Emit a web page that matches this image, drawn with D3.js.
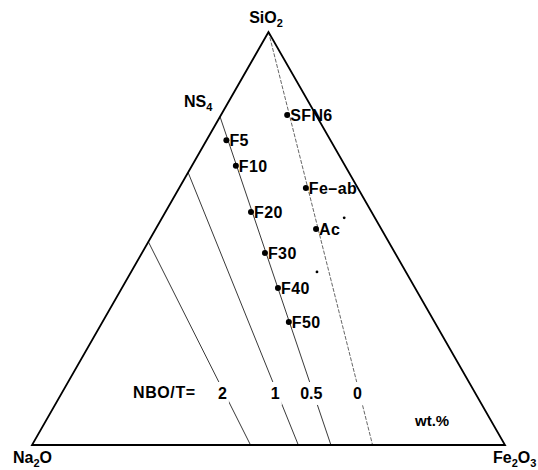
<!DOCTYPE html>
<html>
<head>
<meta charset="utf-8">
<script src="https://cdn.jsdelivr.net/npm/d3@7"></script>
<style>
  html, body { margin: 0; padding: 0; background: #fff; }
  svg text { font-family: "Liberation Sans", Arial, Helvetica, sans-serif; fill: #000; font-weight: bold; }
</style>
</head>
<body>
<svg id="chart" width="538" height="470"></svg>
<script>
// Compositions in wt.% as [SiO2, Na2O, Fe2O3]
const sampleNames = ["SFN6", "Fe–ab", "Ac", "F5", "F10", "F20", "F30", "F40", "F50"];
const sampleSiO2  = [79.9, 62.2, 52.3, 73.8, 67.6, 56.4, 46.5, 38.0, 29.8];
const sampleNa2O  = [ 6.1, 11.0, 13.8, 22.0, 23.1, 25.5, 27.5, 29.0, 30.8];
const sampleFe2O3 = [14.0, 26.8, 33.9,  4.2,  9.3, 18.1, 26.0, 33.0, 39.4];

// Small marks beside Ac and F40
const markSiO2  = [55.0, 41.9];
const markNa2O  = [ 6.5, 18.8];
const markFe2O3 = [38.5, 39.3];

// Iso-NBO/T lines: end on the SiO2–Na2O join and on the Na2O–Fe2O3 join
const nboLabels     = ["2", "1", "0.5", "0"];
const nboStartSiO2  = [49.2, 66.0, 79.5, 100.0];   // NS, NS2, NS4, SiO2
const nboStartNa2O  = [50.8, 34.0, 20.5,   0.0];
const nboEndNa2O    = [53.8, 43.7, 36.8,  28.0];
const nboEndFe2O3   = [46.2, 56.3, 63.2,  72.0];
const nboLabelSiO2  = 12.6;   // height of the value labels along each line

const svg = d3.select("#chart");

// Unit triangle: u across the base (Na2O → Fe2O3), v up to SiO2
const x = d3.scaleLinear().domain([0, 1]).range([32, 505]);
const y = d3.scaleLinear().domain([0, 1]).range([445, 32]);

function project(si, na, fe) {
  const t = si + na + fe;
  const a = si / t, c = fe / t;
  return [x(c + a / 2), y(a)];
}

// NBO/T lines (drawn first so labels can sit on a white patch)
const nboG = svg.append("g");
nboLabels.forEach((lab, i) => {
  const p0 = project(nboStartSiO2[i], nboStartNa2O[i], 100 - nboStartSiO2[i] - nboStartNa2O[i]);
  const p1 = project(0, nboEndNa2O[i], nboEndFe2O3[i]);
  nboG.append("path")
    .attr("d", d3.line()([p0, p1]))
    .attr("fill", "none")
    .attr("stroke", lab === "0" ? "#555" : "#222")
    .attr("stroke-width", 0.9)
    .attr("stroke-dasharray", lab === "0" ? "4,1.5" : null);
});

// Value labels placed on each line where SiO2 = nboLabelSiO2
nboLabels.forEach((lab, i) => {
  const s0 = nboStartSiO2[i];
  const t = 1 - nboLabelSiO2 / s0;
  const na = nboStartNa2O[i] * (1 - t) + nboEndNa2O[i] * t;
  const fe = 100 - nboLabelSiO2 - na;
  const p = project(nboLabelSiO2, na, fe);
  const txt = svg.append("text")
    .attr("x", p[0] - 2).attr("y", p[1] + 6)
    .attr("text-anchor", "middle")
    .attr("font-size", 16)
    .text(lab);
  const bb = txt.node().getBBox();
  svg.insert("rect", "text")
    .attr("x", bb.x - 2).attr("y", bb.y - 3)
    .attr("width", bb.width + 4).attr("height", bb.height + 6)
    .attr("fill", "#fff");
});

svg.append("text")
  .attr("x", 133).attr("y", 398)
  .attr("font-size", 16).attr("letter-spacing", 0.6)
  .text("NBO/T=");

// Triangle frame
const corners = [project(100, 0, 0), project(0, 100, 0), project(0, 0, 100)];
svg.append("path")
  .attr("d", d3.line()(corners) + "Z")
  .attr("fill", "none")
  .attr("stroke", "#000")
  .attr("stroke-width", 1.8)
  .attr("stroke-linejoin", "miter");

// Sample points and labels
sampleNames.forEach((name, i) => {
  const p = project(sampleSiO2[i], sampleNa2O[i], sampleFe2O3[i]);
  svg.append("circle").attr("cx", p[0]).attr("cy", p[1]).attr("r", 3).attr("fill", "#000");
  svg.append("text")
    .attr("x", p[0] + 3).attr("y", p[1] + 6)
    .attr("font-size", 16).attr("letter-spacing", 0.4)
    .text(name);
});

markSiO2.forEach((s, i) => {
  const p = project(s, markNa2O[i], markFe2O3[i]);
  svg.append("circle").attr("cx", p[0]).attr("cy", p[1]).attr("r", 1.4).attr("fill", "#000");
});

// Corner and join labels with subscripts
function chem(xp, yp, parts, anchor) {
  const t = svg.append("text")
    .attr("x", xp).attr("y", yp)
    .attr("font-size", 16)
    .attr("text-anchor", anchor || "start");
  parts.forEach(([s, sub], k) => {
    const ts = t.append("tspan").text(s);
    if (sub) ts.attr("font-size", 11).attr("dy", 4);
    else if (k > 0) ts.attr("dy", -4);
  });
  return t;
}

chem(266, 23, [["SiO", false], ["2", true]], "middle");
chem(184, 107, [["NS", false], ["4", true]]);
chem(13, 463, [["Na", false], ["2", true], ["O", false]]);
chem(493, 463, [["Fe", false], ["2", true], ["O", false], ["3", true]]);

svg.append("text")
  .attr("x", 415).attr("y", 426)
  .attr("font-size", 15)
  .text("wt.%");
</script>
</body>
</html>
